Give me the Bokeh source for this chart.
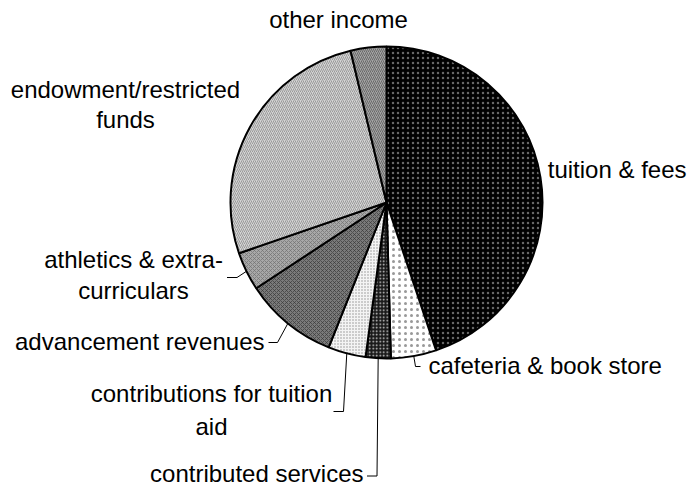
import numpy as np
from bokeh.plotting import figure
from bokeh.models import Range1d
from bokeh.embed import file_html
from bokeh.resources import INLINE
from bokeh.core.properties import value

# ---------------- data ----------------
categories = ["tuition & fees", "cafeteria & book store", "contributed services",
              "contributions for tuition aid", "advancement revenues",
              "athletics & extra-curriculars", "endowment/restricted funds", "other income"]
shares = [44.9, 4.7, 2.6, 3.9, 9.7, 4.0, 26.6, 3.7]
label_lines = [["tuition & fees"], ["cafeteria & book store"], ["contributed services"],
               ["contributions for tuition", "aid"], ["advancement revenues"],
               ["athletics & extra-", "curriculars"], ["endowment/restricted", "funds"],
               ["other income"]]

# ---------------- styles ----------------
fills = ["#000000", "#ffffff", "#1a1a1a", "#f4f4f4", "#7a7a7a", "#a8a8a8", "#d4d4d4", "#a4a4a4"]
hatches = ["dot", "dot", "dot", "dot", "diagonal_cross", "diagonal_cross",
           "right_diagonal_line", "right_diagonal_line"]
hatch_colors = ["#ffffff", "#000000", "#ffffff", "#909090", "#3a3a3a", "#707070", "#8a8a8a", "#5a5a5a"]
hatch_scales = [5, 6, 3.5, 3, 4, 4, 4, 4]
hatch_weights = [0.4, 0.4, 0.5, 0.8, 0.7, 0.7, 0.8, 0.8]
hatch_alphas = [0.4, 0.4, 0.8, 1.0, 1.0, 1.0, 1.0, 1.0]

# ---------------- layout (page pixel coords, y down) ----------------
W, H = 687, 487
CX, CY, R = 386, 202, 156
FONT = "Liberation Sans"
FSIZE = "24px"
TEXT_SHIFT = 8  # renderer places alphabetic baseline this much lower
# label anchor: (align, x, [baselines])
label_pos = [("right", 686, [177]), ("left", 428, [373]), ("right", 363, [481]),
             ("center", 211, [401, 434]), ("right", 264, [349]),
             ("center", 133, [267, 298]), ("center", 125, [97, 127]),
             ("center", 338, [27])]
# leader lines: index -> (elbow, end)
leaders = {1: ((415, 366), (420, 366)), 2: ((376.5, 475.5), (366.5, 475.5)),
           3: ((343, 411), (333, 411)), 4: ((277, 342), (268, 342)),
           5: ((236.5, 277), (226.5, 277))}


def Y(y):
    return H - y


p = figure(width=W, height=H, output_backend="svg", toolbar_location=None,
           x_range=Range1d(0, W), y_range=Range1d(0, H),
           min_border=0, outline_line_color=None)
p.axis.visible = False
p.grid.visible = False
p.background_fill_color = "white"
p.border_fill_color = "white"

frac = np.array(shares, dtype=float)
frac = frac / frac.sum()
cum = np.concatenate([[0.0], np.cumsum(frac)])
starts = np.pi / 2 - 2 * np.pi * cum[:-1]
ends = np.pi / 2 - 2 * np.pi * cum[1:]

for i in range(len(categories)):
    p.wedge(x=CX, y=Y(CY), radius=R, radius_units="screen",
            start_angle=starts[i], end_angle=ends[i], direction="clock",
            fill_color=fills[i], hatch_pattern=hatches[i], hatch_color=hatch_colors[i],
            hatch_scale=hatch_scales[i], hatch_weight=hatch_weights[i],
            hatch_alpha=hatch_alphas[i], line_color="black", line_width=2)

# leader lines from slice mid-angle on the rim
for i, (elbow, end) in leaders.items():
    mid = 2 * np.pi * (cum[i] + cum[i + 1]) / 2
    ex = CX + R * np.sin(mid)
    ey = CY - R * np.cos(mid)
    p.line(x=[ex, elbow[0], end[0]], y=[Y(ey), Y(elbow[1]), Y(end[1])],
           line_color="black", line_width=1)

for i, lines in enumerate(label_lines):
    align, x, bases = label_pos[i]
    for txt, b in zip(lines, bases):
        p.text(x=[x], y=[Y(b - TEXT_SHIFT)], text=[txt], text_align=align,
               text_baseline="alphabetic", text_font=value(FONT),
               text_font_size=FSIZE, text_color="black")

open("out.html", "w").write(file_html(p, INLINE))
